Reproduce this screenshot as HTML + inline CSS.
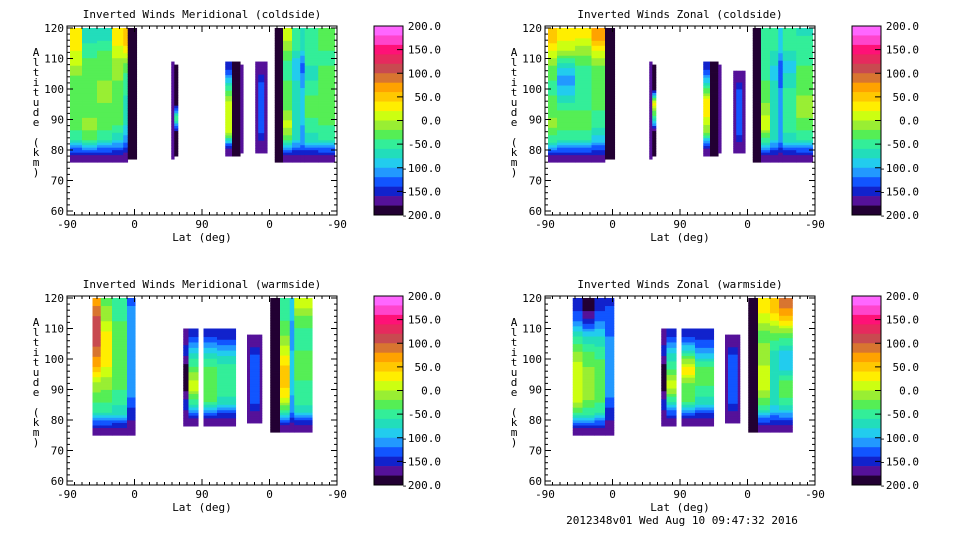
<!DOCTYPE html>
<html><head><meta charset="utf-8">
<style>
html,body{margin:0;padding:0;background:#fff;}
svg{display:block;font-family:"DejaVu Sans Mono","Liberation Mono",monospace;}
text{font-size:11px;fill:#000;}
</style></head>
<body>
<svg id="fig" width="960" height="540" viewBox="0 0 960 540" xmlns="http://www.w3.org/2000/svg"></svg>
<script>
// ---- data ----
const xTickLabels = ["-90","0","90","0","-90"];
const yTicks = [60,70,80,90,100,110,120];
const cbarLevels = [200,150,100,50,0,-50,-100,-150,-200];
const cbarLabels = ["200.0","150.0","100.0","50.0","0.0","-50.0","-100.0","-150.0","-200.0"];
const bandColors = ["#ff66ff","#ff44cc","#ff1177","#e62a5e","#c84a50","#d87530","#ffa200","#ffc800","#ffee00","#ccff11",
 "#99ee33","#55ee55","#33ee99","#22ddbb","#22ccee","#2299ff","#1155ff","#1122cc","#551199","#220033"];
const panelTitles = ["Inverted Winds Meridional (coldside)","Inverted Winds Zonal (coldside)","Inverted Winds Meridional (warmside)","Inverted Winds Zonal (warmside)"];
// columns: [latPos0, latPos1, altBottom, altTop, values bottom->top]   (latPos 0..360 along axis)
const colsTL = [
 [4,20,76,120,[-165,-60,-30,-30,-30,-30,0,20,30]],
 [20,40,76,120,[-165,-40,-10,-30,-30,-20,-30,-50,-70]],
 [40,60,76,120,[-165,-60,-30,-30,-10,-20,-20,-40,-70]],
 [60,75,76,120,[-165,-80,-40,-30,-30,-20,-10,10,40]],
 [75,81,76,120,[-165,-110,-80,-60,-60,-50,-30,30,60]],
 [81,93,77,120,[-200,-200,-200,-200,-200,-200,-200,-200,-200]],
 [139,143,77,109,[-170,-170,-170,-170,-170,-170]],
 [143,148,78,108,[-200,-200,-30,-200,-200,-200]],
 [211,220,78,109,[-165,10,20,0,-60,-140]],
 [220,231,78,109,[-200,-200,-200,-200,-200,-200]],
 [231,235,79,108,[-170,-170,-170,-170,-170,-170]],
 [251,255,79,109,[-170,-170,-170,-170,-170,-170]],
 [255,263,79,109,[-170,-130,-130,-130,-130,-170]],
 [263,267,79,109,[-170,-170,-170,-170,-170,-170]],
 [277,288,76,120,[-190,-200,-200,-200,-200,-200,-200,-200,-200]],
 [288,300,76,120,[-165,-40,10,-20,-30,-40,-50,-20,10]],
 [300,311,76,120,[-165,-80,-60,-60,-60,-80,-100,-60,-40]],
 [311,317,76,120,[-165,-100,-100,-90,-90,-110,-130,-80,-60]],
 [317,335,76,120,[-165,-70,-50,-30,-40,-60,-60,-40,-50]],
 [335,357,76,120,[-165,-60,-40,-30,-20,-30,-40,-40,-30]]
];
const colsTR = [
 [4,16,76,120,[-165,-50,-10,-30,-40,-40,-20,20,60]],
 [16,40,76,120,[-165,-60,-30,-40,-80,-110,-70,0,30]],
 [40,62,76,120,[-165,-60,-30,-40,-50,-60,-40,-10,30]],
 [62,80,76,120,[-165,-90,-50,-40,-30,-30,-20,20,80]],
 [80,93,77,120,[-200,-200,-200,-200,-200,-200,-200,-200,-200]],
 [139,143,77,109,[-170,-170,-170,-170,-170,-170]],
 [143,148,78,108,[-200,-200,-60,30,-200,-200]],
 [211,220,78,109,[-165,-20,20,30,-60,-140]],
 [220,231,78,109,[-200,-200,-200,-200,-200,-200]],
 [231,235,79,108,[-170,-170,-170,-170,-170,-170]],
 [251,255,79,106,[-170,-170,-170,-170,-170,-170]],
 [255,263,79,106,[-170,-130,-130,-130,-130,-170]],
 [263,267,79,106,[-170,-170,-170,-170,-170,-170]],
 [277,288,76,120,[-190,-200,-200,-200,-200,-200,-200,-200,-200]],
 [288,300,76,120,[-165,-50,20,-10,-30,-40,-50,-50,-40]],
 [300,311,76,120,[-165,-80,-60,-60,-70,-80,-80,-60,-50]],
 [311,317,76,120,[-165,-110,-100,-100,-110,-130,-140,-90,-80]],
 [317,335,76,120,[-165,-70,-50,-40,-50,-70,-90,-60,-40]],
 [335,357,76,120,[-165,-60,-30,-10,-20,-30,-40,-50,-60]]
];
const colsBL = [
 [34,45,75,120,[-165,-60,-30,0,60,90,120,110,80]],
 [45,60,75,120,[-165,-60,-30,-10,20,40,30,0,-20]],
 [60,80,75,120,[-165,-70,-50,-30,-20,-20,-20,-40,-40]],
 [80,91,75,120,[-170,-150,-120,-100,-100,-100,-100,-110,-120]],
 [155,162,78,110,[-170,-150,-200,-200,-150,-170]],
 [162,175,78,110,[-165,-50,20,-30,-80,-140]],
 [182,200,78,110,[-165,-40,-30,-30,-80,-140]],
 [200,225,78,110,[-165,-70,-40,-40,-90,-150]],
 [240,244,79,108,[-170,-170,-170,-170,-170,-170]],
 [244,257,79,108,[-170,-130,-130,-130,-130,-170]],
 [257,260,79,108,[-170,-170,-170,-170,-170,-170]],
 [271,284,76,120,[-180,-200,-200,-200,-200,-200,-200,-200,-200]],
 [284,297,76,120,[-165,-40,30,50,40,10,-20,-40,-50]],
 [297,303,76,120,[-165,-110,-100,-90,-90,-100,-110,-100,-90]],
 [303,327,76,120,[-165,-70,-40,-40,-30,-40,-50,-30,10]]
];
const colsBR = [
 [37,50,75,120,[-165,-40,20,20,10,-20,-60,-120,-150]],
 [50,66,75,120,[-165,-50,-10,-10,-20,-40,-80,-150,-200]],
 [66,80,75,120,[-165,-60,-30,-20,-30,-50,-80,-120,-150]],
 [80,92,75,120,[-170,-150,-120,-110,-110,-110,-120,-130,-140]],
 [155,162,78,110,[-170,-150,-200,-200,-150,-170]],
 [162,175,78,110,[-165,-60,20,-40,-80,-140]],
 [182,200,78,110,[-165,-40,-30,40,-60,-140]],
 [200,225,78,110,[-165,-70,-40,-20,-100,-150]],
 [240,244,79,108,[-170,-170,-170,-170,-170,-170]],
 [244,257,79,108,[-170,-130,-130,-130,-130,-170]],
 [257,260,79,108,[-170,-170,-170,-170,-170,-170]],
 [271,284,76,120,[-180,-200,-200,-200,-200,-200,-200,-200,-200]],
 [284,300,76,120,[-165,-60,-10,20,0,-10,-30,10,30]],
 [300,312,76,120,[-165,-90,-60,-60,-80,-60,-30,20,60]],
 [312,330,76,120,[-165,-80,-30,-40,-100,-80,-30,40,90]]
];
const panelCols = [colsTL, colsTR, colsBL, colsBR];

// ---- drawing ----
const NS = "http://www.w3.org/2000/svg";
const svg = document.getElementById("fig");
function mk(tag, attrs, parent){ const e=document.createElementNS(NS,tag); for(const k in attrs) e.setAttribute(k,attrs[k]); (parent||svg).appendChild(e); return e; }
function colorFor(v){ let i=Math.floor((200-v)/20); if(i<0)i=0; if(i>19)i=19; return bandColors[i]; }
function interp(vals, f){
  const n=vals.length; let u=f-0.5; if(u<=0) return vals[0]; if(u>=n-1) return vals[n-1];
  const i=Math.floor(u), t=u-i; return vals[i]*(1-t)+vals[i+1]*t;
}
const origins = [[67,26],[545,26],[67,296],[545,296]];
const PW=270, PH=189, SUB=6;
origins.forEach((o,pi)=>{
  const ox=o[0], oy=o[1];
  const g = mk("g",{});
  
  
  const xS = p => ox + p*PW/360;
  const yS = km => oy + 2 + (120-km)*3.05;
  const t = mk("text",{x:ox+PW/2,y:oy-8,"text-anchor":"middle"},g); t.textContent=panelTitles[pi];
  
  
  panelCols[pi].forEach(c=>{
    const [p0,p1,a0,a1,vals]=c; const n=vals.length; const m=n*SUB; const h=(a1-a0)/m;
    for(let j=0;j<m;j++){
      const v=interp(vals,(j+0.5)/SUB);
      const y0=yS(a0+(j+1)*h), y1=yS(a0+j*h);
      const r=mk("rect",{x:xS(p0),y:y0,width:xS(p1)-xS(p0)+0.3,height:y1-y0+0.4,fill:colorFor(v)},g);
      
      
    }
  });
  const fr=mk("rect",{x:ox,y:oy,width:PW,height:PH,fill:"none",stroke:"#000","stroke-width":1},g);
  
  
  for(let km=60;km<=120;km+=2){
    const y=yS(km); const L=(km%10===0)?6:3;
    mk("line",{x1:ox,y1:y,x2:ox+L,y2:y,stroke:"#000"},g);
    mk("line",{x1:ox+PW,y1:y,x2:ox+PW-L,y2:y,stroke:"#000"},g);
  }
  yTicks.forEach(km=>{
    const tl=mk("text",{x:ox-3,y:yS(km)+4,"text-anchor":"end"},g); tl.textContent=km;
    
    
  });
  for(let p=0;p<=360;p+=10){
    const x=xS(p); const L=(p%90===0)?6:3;
    mk("line",{x1:x,y1:oy+PH,x2:x,y2:oy+PH-L,stroke:"#000"},g);
    mk("line",{x1:x,y1:oy,x2:x,y2:oy+L,stroke:"#000"},g);
  }
  xTickLabels.forEach((s,i)=>{
    const tl=mk("text",{x:xS(i*90),y:oy+PH+13,"text-anchor":"middle"},g); tl.textContent=s;
    
    
  });
  const xt=mk("text",{x:ox+PW/2,y:oy+PH+26,"text-anchor":"middle"},g); xt.textContent="Lat (deg)";
  
  
  const ytl="Altitude (km)";
  const yg=mk("g",{},g);
  
  
  for(let i=0;i<ytl.length;i++){ const ch=mk("text",{x:ox-31,y:oy+30+i*10,"text-anchor":"middle"},yg); ch.textContent=ytl[i]; }
  const cx=ox+307, cw=29, cy=oy, ch=PH;
  const cb=mk("g",{},g);
  
  
  bandColors.forEach((c,i)=>{ mk("rect",{x:cx,y:cy+i*ch/20,width:cw,height:ch/20+0.3,fill:c},cb); });
  mk("rect",{x:cx,y:cy,width:cw,height:ch,fill:"none",stroke:"#000"},cb);
  cbarLevels.forEach((v,i)=>{
    const y=cy+(200-v)/400*ch;
    if(i>0&&i<cbarLevels.length-1) mk("line",{x1:cx+cw-6,y1:y,x2:cx+cw,y2:y,stroke:"#000"},cb);
    const tl=mk("text",{x:cx+67,y:y+4,"text-anchor":"end"},cb); tl.textContent=cbarLabels[i];
    
    
  });
});
const ft=mk("text",{x:682,y:524,"text-anchor":"middle"}); ft.textContent="2012348v01 Wed Aug 10 09:47:32 2016";


</script>
</body></html>
